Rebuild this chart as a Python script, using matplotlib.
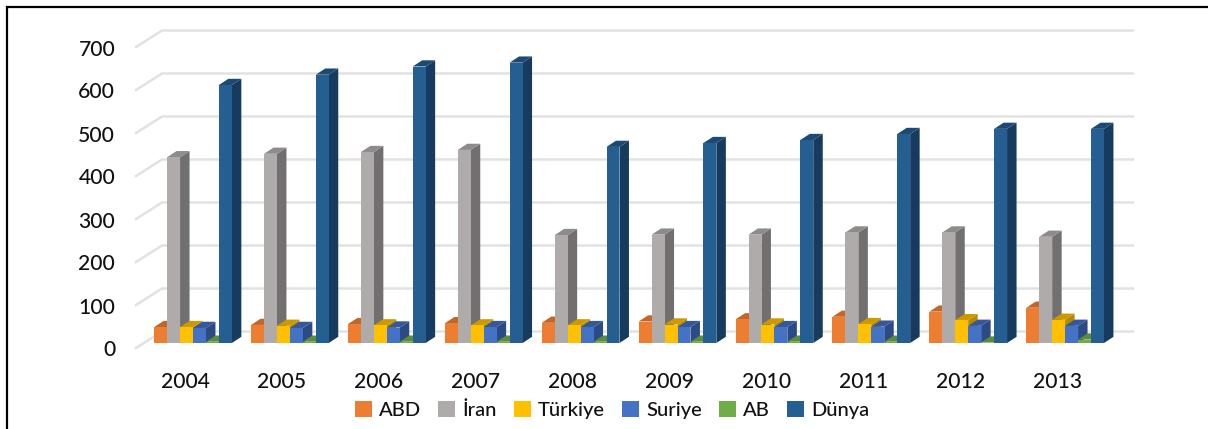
import matplotlib
matplotlib.use("Agg")
import matplotlib.pyplot as plt
from matplotlib.patches import Patch, Polygon
from matplotlib.transforms import ScaledTranslation

plt.rcParams['font.family'] = ['Lato', 'DejaVu Sans']
plt.rcParams['font.weight'] = 500

years = ['2004', '2005', '2006', '2007', '2008', '2009', '2010', '2011', '2012', '2013']
abd = [37, 42, 44, 46, 47, 50, 55, 61, 73, 82]
iran = [432, 440, 444, 449, 251, 252, 252, 257, 257, 247]
turkiye = [37, 40, 41, 41, 41, 43, 43, 44, 53, 54]
suriye = [35, 35, 36, 37, 37, 37, 37, 38, 40, 40]
ab = [3, 3, 3, 3, 3, 3, 3, 3, 1, 8]
dunya = [600, 624, 643, 652, 456, 465, 472, 486, 498, 498]
ticks = [0, 100, 200, 300, 400, 500, 600, 700]

series = [('ABD', abd, '#ED7D31', '#BE5F20', '#C4652A'),
          ('İran', iran, '#AFABAB', '#716F6F', '#8E8B8B'),
          ('Türkiye', turkiye, '#FFC000', '#B58A00', '#CC9A00'),
          ('Suriye', suriye, '#4472C4', '#2C4A85', '#34589A'),
          ('AB', ab, '#70AD47', '#4E7B31', '#5A8C39'),
          ('Dünya', dunya, '#255E91', '#163B5E', '#1B4A74')]

W, H = 1208, 429
PX_LEFT, PX_RIGHT, PX_TOP, PX_BOTTOM = 136, 1133, 30.5, 348
PX_BASE = 343          # where the front of the bars stands
PX_PER_UNIT = 0.43     # y scale
PX_PER_GROUP = 96.9
PX_FIRST = 193         # centre of first group
BAR_W = 12.95 / PX_PER_GROUP
DX, DY = 9.5 / PX_PER_GROUP, 6.2 / PX_PER_UNIT  # depth of the bars

fig = plt.figure(figsize=(W / 100, H / 100), dpi=100)
ax = fig.add_axes([PX_LEFT / W, 1 - PX_BOTTOM / H, (PX_RIGHT - PX_LEFT) / W, (PX_BOTTOM - PX_TOP) / H])
ax.set_xlim((PX_LEFT - PX_FIRST) / PX_PER_GROUP, (PX_RIGHT - PX_FIRST) / PX_PER_GROUP)
ax.set_ylim((PX_BASE - PX_BOTTOM) / PX_PER_UNIT, (PX_BASE - PX_TOP) / PX_PER_UNIT)
for s in ax.spines.values():
    s.set_visible(False)

# gridlines, slanted on the side wall
x0, x1 = ax.get_xlim()
back_x = x0 + 26 / PX_PER_GROUP
front_off = (PX_BASE - 348) / PX_PER_UNIT
back_off = (PX_BASE - 331.5) / PX_PER_UNIT
for v in ticks:
    ax.plot([x0, back_x, x1], [v + front_off, v + back_off, v + back_off],
            color='#E2E2E2', lw=1.8, zorder=1, clip_on=False, solid_joinstyle='miter')

# pseudo 3d bars, drawn left to right so each one covers the side of the last
for i, (name, vals, col, side, top) in enumerate(series):
    xs = [k + (i - 2.5) * BAR_W for k in range(len(years))]
    z = 3 + i
    for x, v in zip(xs, vals):
        r = x + BAR_W / 2
        l = x - BAR_W / 2
        ax.add_patch(Polygon([(r, 0), (r + DX, DY), (r + DX, v + DY), (r, v)],
                             facecolor=side, edgecolor='none', zorder=z))
        ax.add_patch(Polygon([(l, v), (l + DX, v + DY), (r + DX, v + DY), (r, v)],
                             facecolor=top, edgecolor='none', zorder=z))
    ax.bar(xs, vals, width=BAR_W, color=col, zorder=z + 0.5)

ax.set_xticks(range(len(years)), years)
ax.set_yticks(ticks)
ax.tick_params(length=0, labelsize=15.2, colors='#111111')
ax.tick_params(axis='x', pad=17.5)
ax.tick_params(axis='y', pad=15)
# labels sit on the front plane, not under the bars
x_shift = ScaledTranslation(-8 / 100, 0, fig.dpi_scale_trans)
y_shift = ScaledTranslation(0, -5.5 / 100, fig.dpi_scale_trans)
for t in ax.get_xticklabels():
    t.set_transform(t.get_transform() + x_shift)
for t in ax.get_yticklabels():
    t.set_transform(t.get_transform() + y_shift)

handles = [Patch(facecolor=c[2], label=c[0]) for c in series]
fig.legend(handles=handles, loc='center', bbox_to_anchor=(612 / W, 1 - 410 / H), ncol=6,
           frameon=False, fontsize=14.5, handlelength=0.85, handleheight=0.85,
           handletextpad=0.35, columnspacing=0.85, labelcolor='#111111')

# black frame of the picture: top and left only
fig.add_artist(plt.Line2D([7 / W, 7 / W, 1], [0, 1 - 6.5 / H, 1 - 6.5 / H], color='black', lw=1.6,
                          solid_joinstyle='miter'))

fig.savefig('out.png', dpi=100)
